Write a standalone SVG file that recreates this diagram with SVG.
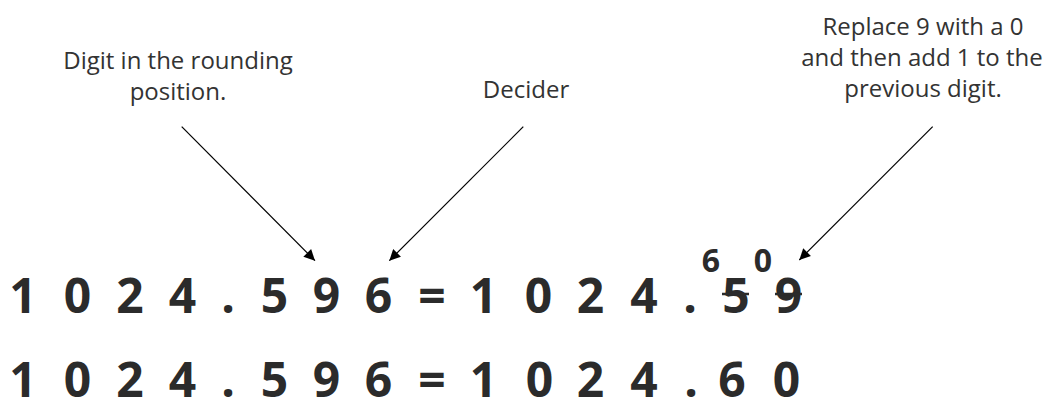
<svg xmlns="http://www.w3.org/2000/svg" width="1050" height="398" viewBox="0 0 1050 398">
<style>
.lbl{font-family:"Open Sans","Liberation Sans",sans-serif;font-size:24px;fill:#333;text-anchor:middle}
.num{font-family:"Open Sans","Liberation Sans",sans-serif;font-size:48px;font-weight:bold;fill:#2b2b2b;text-anchor:middle}
.sm{font-family:"Open Sans","Liberation Sans",sans-serif;font-size:32px;font-weight:bold;fill:#2b2b2b;text-anchor:middle}
.arr{stroke:#000;stroke-width:1.2;fill:none;marker-end:url(#ah)}
.strike{stroke:#2b2b2b;stroke-width:2.5}
</style>
<defs>
<marker id="ah" viewBox="0 0 10 10" refX="10" refY="5" markerWidth="16" markerHeight="11" markerUnits="userSpaceOnUse" orient="auto">
<path d="M0,0 L10,5 L0,10 z" fill="#000"/>
</marker>
</defs>
<g id="label-rounding">
<text class="lbl" x="178" y="69">Digit in the rounding</text>
<text class="lbl" x="178" y="100">position.</text>
</g>
<g id="label-decider">
<text class="lbl" x="526" y="98">Decider</text>
</g>
<g id="label-replace">
<text class="lbl" x="923" y="35">Replace 9 with a 0</text>
<text class="lbl" x="922" y="66">and then add 1 to the</text>
<text class="lbl" x="923" y="97">previous digit.</text>
</g>
<g id="row1">
<text class="num" y="313" x="23 50 77.5 104 130 156 182.5 205 228 251 274.5 300 326.5 352 378.5 405 432 458 483.5 511 538.5 565 590.5 617 644 667 690 713 736 762 788.5">1 0 2 4 . 5 9 6 = 1 0 2 4 . 5 9</text>
<line class="strike" x1="722" y1="294" x2="749" y2="294"/>
<line class="strike" x1="775" y1="294" x2="802" y2="294"/>
</g>
<g id="carry">
<text class="sm" y="272" x="711 737 763">6 0</text>
</g>
<g id="row2">
<text class="num" y="397" x="23 50 77.5 104 130 156 182.5 205 228 251 274.5 300 326.5 352 378.5 405 432 458 483.5 511 539.5 565 590.5 617 644 667 691 713 732 760 786.5">1 0 2 4 . 5 9 6 = 1 0 2 4 . 6 0</text>
</g>
<g id="connectors">
<line class="arr" x1="181.7" y1="126.7" x2="315" y2="260.7"/>
<line class="arr" x1="523.3" y1="126.7" x2="389.3" y2="260.7"/>
<line class="arr" x1="932.7" y1="126.7" x2="799.3" y2="260"/>
</g>
</svg>
